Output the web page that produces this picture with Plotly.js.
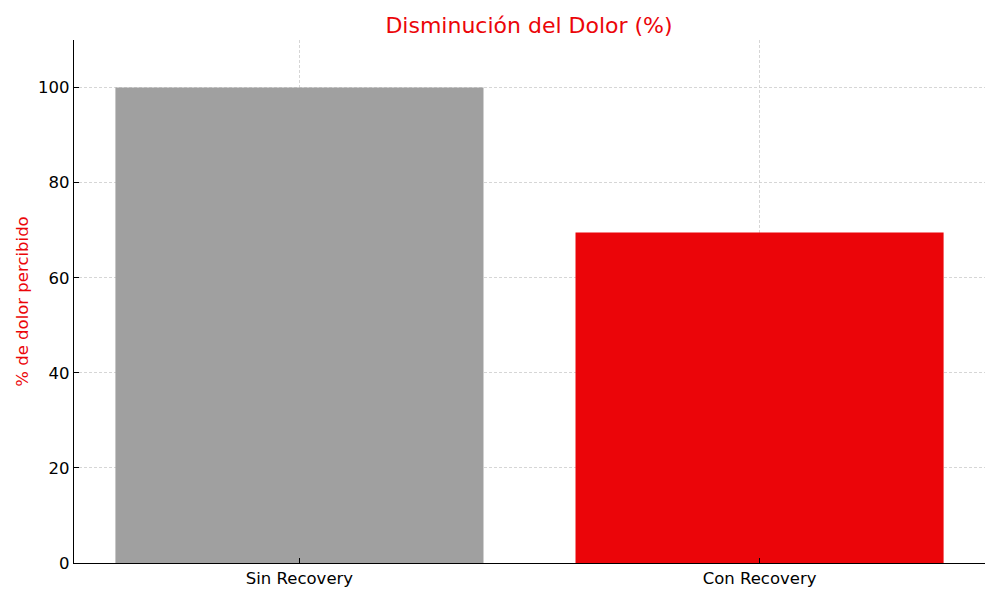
<!DOCTYPE html>
<html>
<head>
<meta charset="utf-8">
<script src="https://cdn.plot.ly/plotly-3.0.1.min.js"></script>
<style>html,body{margin:0;padding:0;background:#fff;}#chart{width:1000px;height:600px;}</style>
</head>
<body>
<div id="chart"></div>
<script>
const categories = ["Sin Recovery", "Con Recovery"];
const values = [100, 69.5];
const barColors = ["#a0a0a0", "#eb0509"];
const yTicks = [0, 20, 40, 60, 80, 100];

const trace = {
  type: "bar",
  x: [0, 1],
  y: values,
  width: 0.8,
  marker: { color: barColors, line: { width: 0 } },
  hoverinfo: "skip"
};

const layout = {
  width: 1000,
  height: 600,
  margin: { l: 74, r: 15, t: 40, b: 37 },
  paper_bgcolor: "#fff",
  plot_bgcolor: "#fff",
  font: { family: "DejaVu Sans, sans-serif", size: 16.5, color: "#000" },
  title: {
    text: "Disminución del Dolor (%)",
    font: { family: "DejaVu Sans, sans-serif", size: 22, color: "#eb0509" },
    x: 0.529, xanchor: "center", y: 0.958, yanchor: "middle"
  },
  showlegend: false,
  xaxis: {
    range: [-0.49, 1.49],
    tickmode: "array",
    tickvals: [0, 1],
    ticktext: categories,
    showgrid: true,
    gridcolor: "#cccccc",
    griddash: "3px,2px",
    gridwidth: 0.8,
    layer: "above traces",
    showline: true,
    linecolor: "#000",
    linewidth: 1.2,
    ticks: "inside",
    ticklen: 5,
    tickcolor: "#000",
    zeroline: false,
    mirror: false
  },
  yaxis: {
    range: [0, 110],
    tickmode: "array",
    tickvals: yTicks,
    showgrid: true,
    gridcolor: "#cccccc",
    griddash: "3px,2px",
    gridwidth: 0.8,
    layer: "above traces",
    showline: true,
    linecolor: "#000",
    linewidth: 1.2,
    ticks: "inside",
    ticklen: 5,
    tickcolor: "#000",
    zeroline: false,
    title: { text: "% de dolor percibido", font: { size: 16.5, color: "#eb0509" }, standoff: 5 }
  }
};

Plotly.newPlot("chart", [trace], layout, { staticPlot: true, displayModeBar: false });
</script>
</body>
</html>
